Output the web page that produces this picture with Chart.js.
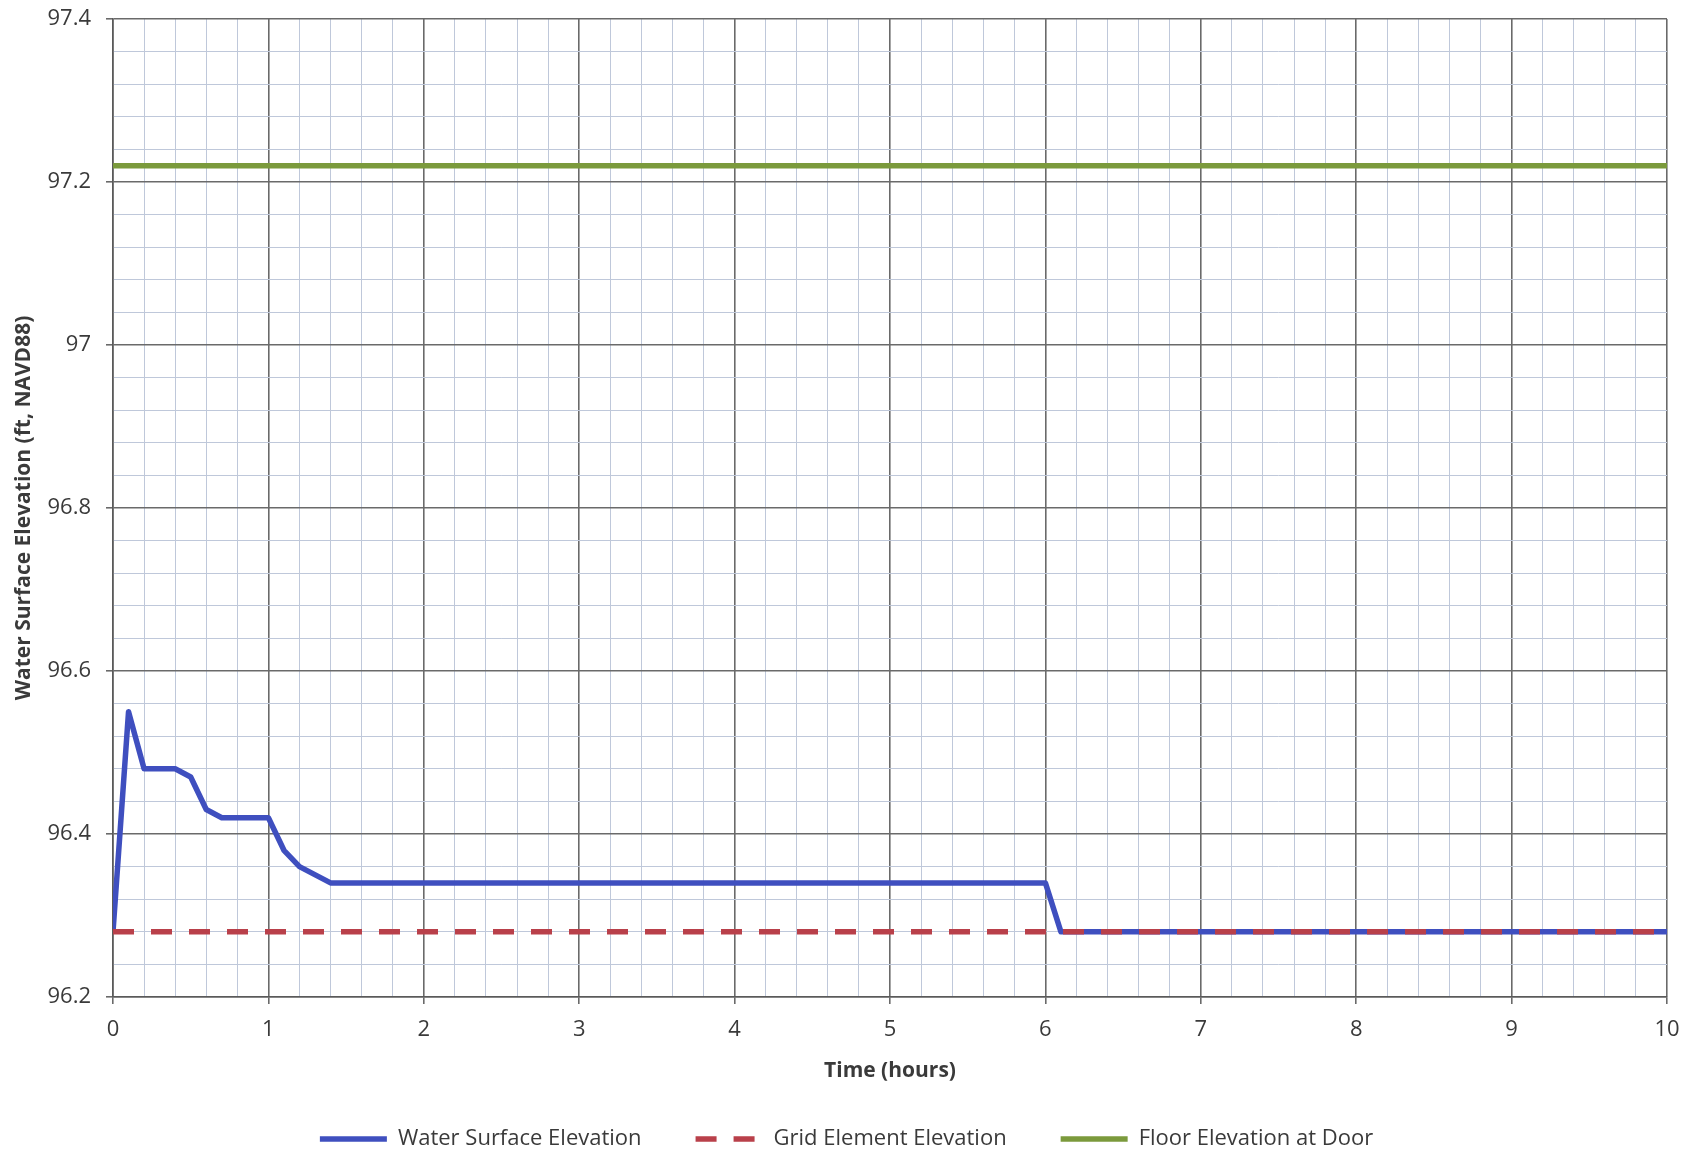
<!DOCTYPE html>
<html>
<head>
<meta charset="utf-8">
<script src="https://cdn.jsdelivr.net/npm/chart.js@4/dist/chart.umd.min.js"></script>
<style>
html,body{margin:0;padding:0;background:#fff;}
#wrap{width:1693px;height:1155px;}
</style>
</head>
<body>
<div id="wrap"><canvas id="c" width="1693" height="1155"></canvas></div>
<script>
// ---- Data ----
const waterTime = [0, 0.1, 0.2, 0.4, 0.5, 0.6, 0.7, 1.0, 1.1, 1.2, 1.4, 6.0, 6.1, 10];
const waterElev = [96.28, 96.55, 96.48, 96.48, 96.47, 96.43, 96.42, 96.42, 96.38, 96.36, 96.34, 96.34, 96.28, 96.28];
const gridTime = [0, 10];
const gridElev = [96.28, 96.28];
const floorTime = [0, 10];
const floorElev = [97.22, 97.22];
const seriesLabels = ['Water Surface Elevation', 'Grid Element Elevation', 'Floor Elevation at Door'];
const xTitle = 'Time (hours)';
const yTitle = 'Water Surface Elevation (ft, NAVD88)';

const pts = (xs, ys) => xs.map((x, i) => ({x: x, y: ys[i]}));
const isMajorX = v => Math.abs(v - Math.round(v)) < 1e-6;
const isMajorY = v => Math.abs(v * 5 - Math.round(v * 5)) < 1e-6;

const FONT = "'Open Sans', 'DejaVu Sans', sans-serif";
const MAJOR = '#6a6a6a', MINOR = '#bfc8da';

new Chart(document.getElementById('c'), {
  type: 'line',
  data: {
    datasets: [
      {label: seriesLabels[0], data: pts(waterTime, waterElev), borderColor: '#3f4fbf', backgroundColor: '#3f4fbf',
       borderWidth: 5.5, pointRadius: 0, tension: 0, order: 2, pointStyle: 'line', borderJoinStyle: 'round'},
      {label: seriesLabels[1], data: pts(gridTime, gridElev), borderColor: '#b9404a', backgroundColor: '#b9404a',
       borderWidth: 5.5, borderDash: [21, 17], pointRadius: 0, tension: 0, order: 1, pointStyle: 'line'},
      {label: seriesLabels[2], data: pts(floorTime, floorElev), borderColor: '#7b9a3c', backgroundColor: '#7b9a3c',
       borderWidth: 5.5, pointRadius: 0, tension: 0, order: 3, pointStyle: 'line'}
    ]
  },
  options: {
    responsive: false,
    animation: false,
    layout: {padding: {left: 0, right: 0, top: 19, bottom: -5}},
    plugins: {
      tooltip: {enabled: false},
      legend: {
        position: 'bottom',
        labels: {
          usePointStyle: true,
          pointStyle: 'line',
          pointStyleWidth: 67,
          padding: 10,
          color: '#3a3a3a',
          font: {family: FONT, size: 22},
          sort: (a, b) => a.datasetIndex - b.datasetIndex,
          generateLabels: (chart) => {
            const items = Chart.defaults.plugins.legend.labels.generateLabels(chart);
            items.sort((a, b) => a.datasetIndex - b.datasetIndex);
            items.forEach((it, i) => {
              const ds = chart.data.datasets[it.datasetIndex];
              it.lineWidth = 5.5;
              it.lineDash = ds.borderDash || [];
              it.strokeStyle = ds.borderColor;
              if (i < items.length - 1) it.text = it.text + '\u2003\u2003';
            });
            return items;
          }
        }
      }
    },
    scales: {
      x: {
        type: 'linear',
        min: 0, max: 10,
        afterFit: (s) => { s.height = 121; s.paddingRight = 26; },
        ticks: {
          stepSize: 0.2, autoSkip: false, maxRotation: 0, padding: 13,
          color: '#3a3a3a', font: {family: FONT, size: 22},
          callback: (v) => isMajorX(v) ? String(Math.round(v)) : ''
        },
        grid: {
          color: (ctx) => (ctx.tick && isMajorX(ctx.tick.value)) ? MAJOR : MINOR,
          lineWidth: (ctx) => (ctx.tick && isMajorX(ctx.tick.value)) ? 1.6 : 1,
          tickColor: (ctx) => (ctx.tick && isMajorX(ctx.tick.value)) ? MAJOR : 'rgba(0,0,0,0)',
          tickLength: 7
        },
        border: {color: '#5a5a5a', width: 1.6},
        title: {display: true, text: xTitle, color: '#3a3a3a', font: {family: FONT, size: 21, weight: 'bold'},
                padding: {top: 0, bottom: 34}}
      },
      y: {
        type: 'linear',
        min: 96.2, max: 97.4,
        afterFit: (s) => { s.width = 113; s.paddingTop = 0; s.paddingBottom = 0; },
        ticks: {
          stepSize: 0.04, autoSkip: false, padding: 15,
          color: '#3a3a3a', font: {family: FONT, size: 22},
          callback: (v) => isMajorY(v) ? String(Math.round(v * 10) / 10) : ''
        },
        grid: {
          color: (ctx) => (ctx.tick && isMajorY(ctx.tick.value)) ? MAJOR : MINOR,
          lineWidth: (ctx) => (ctx.tick && isMajorY(ctx.tick.value)) ? 1.6 : 1,
          tickColor: (ctx) => (ctx.tick && isMajorY(ctx.tick.value)) ? MAJOR : 'rgba(0,0,0,0)',
          tickLength: 7
        },
        border: {color: '#5a5a5a', width: 1.6},
        title: {display: true, text: yTitle, color: '#3a3a3a', font: {family: FONT, size: 21, weight: 'bold'},
                padding: {top: 11, bottom: 0}}
      }
    }
  }
});
</script>
</body>
</html>
